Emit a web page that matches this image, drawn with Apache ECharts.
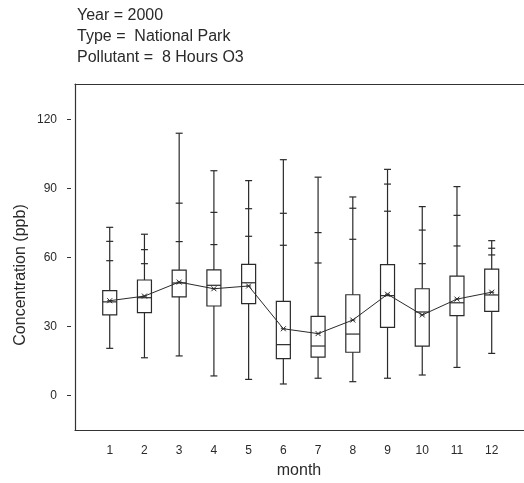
<!DOCTYPE html>
<html>
<head>
<meta charset="utf-8">
<script src="https://cdn.jsdelivr.net/npm/echarts@6/dist/echarts.min.js"></script>
<style>
  html, body { margin: 0; padding: 0; background: #fff; }
  #chart { width: 524px; height: 483px; }
</style>
</head>
<body>
<div id="chart"></div>
<script>
// Monthly 8-hour O3 concentration distribution (ppb), National Park sites, 2000
const months      = [1, 2, 3, 4, 5, 6, 7, 8, 9, 10, 11, 12];
const whiskerLow  = [20.6, 16.5, 17.3, 8.6, 7.1, 5.1, 7.6, 6.1, 7.6, 9.0, 12.3, 18.4];
const q1          = [35.1, 36.1, 43.0, 39.0, 40.0, 16.1, 16.8, 18.9, 29.7, 21.6, 34.8, 36.7];
const median      = [40.8, 42.6, 49.0, 48.0, 49.1, 22.2, 21.6, 26.8, 43.5, 36.4, 40.4, 43.8];
const q3          = [45.7, 50.3, 54.6, 54.7, 57.1, 41.0, 34.5, 43.9, 57.0, 46.5, 52.0, 55.0];
const whiskerHigh = [73.2, 70.2, 114.1, 97.8, 93.5, 102.6, 95.0, 86.4, 98.4, 82.2, 90.9, 67.4];
const upperTickA  = [67.1, 63.5, 83.7, 79.7, 81.3, 79.3, 70.9, 81.5, 92.0, 72.0, 78.4, 64.1];
const upperTickB  = [58.7, 57.4, 67.0, 65.7, 69.3, 65.4, 57.7, 68.0, 80.2, 57.4, 65.1, 61.2];
const meanValue   = [41.3, 43.3, 49.4, 46.5, 47.7, 29.1, 27.0, 32.9, 44.1, 35.1, 42.0, 45.0];
const yTicks      = [0, 30, 60, 90, 120];

const FONT = '"Liberation Sans", Arial, Helvetica, sans-serif';
const INK = '#2a2a2a';
const FRAME = { show: true, onZero: false, lineStyle: { color: '#333', width: 1.2 } };
const Y_MIN = -14.9, Y_MAX = 135.5;
// The frame runs on past the right edge of the canvas
const X_MAX = 12.93;

const boxData = months.map((m, i) => [m, whiskerLow[i], q1[i], median[i], q3[i], whiskerHigh[i], upperTickA[i], upperTickB[i]]);
const meanData = months.map((m, i) => [m, meanValue[i]]);

function renderBox(params, api) {
  const x = api.value(0);
  const pt = v => api.coord([x, v]);
  const cx = pt(0)[0];
  const yLow = pt(api.value(1))[1];
  const yQ1 = pt(api.value(2))[1];
  const yMed = pt(api.value(3))[1];
  const yQ3 = pt(api.value(4))[1];
  const yHigh = pt(api.value(5))[1];
  const yTa = pt(api.value(6))[1];
  const yTb = pt(api.value(7))[1];
  const halfBox = 7, halfCap = 3.5, halfTick = 3.5;
  const style = { stroke: INK, lineWidth: 1.2, fill: null };
  const line = (x1, y1, x2, y2) => ({ type: 'line', shape: { x1, y1, x2, y2 }, style });
  return {
    type: 'group',
    children: [
      line(cx, yLow, cx, yQ1),
      line(cx - halfCap, yLow, cx + halfCap, yLow),
      line(cx, yQ3, cx, yHigh),
      line(cx - halfCap, yHigh, cx + halfCap, yHigh),
      line(cx - halfTick, yTa, cx + halfTick, yTa),
      line(cx - halfTick, yTb, cx + halfTick, yTb),
      { type: 'rect', shape: { x: cx - halfBox, y: yQ3, width: halfBox * 2, height: yQ1 - yQ3 }, style },
      line(cx - halfBox, yMed, cx + halfBox, yMed)
    ]
  };
}

const chart = echarts.init(document.getElementById('chart'), null, { renderer: 'canvas' });
chart.setOption({
  animation: false,
  backgroundColor: '#fff',
  textStyle: { fontFamily: FONT },
  grid: { left: 75, top: 84, right: 0, height: 346, show: false },
  xAxis: [
    {
      type: 'value', min: 0, max: X_MAX, position: 'bottom',
      axisLine: FRAME,
      axisTick: { show: false },
      splitLine: { show: false },
      axisLabel: { customValues: months, margin: 15, fontSize: 12, color: INK, fontFamily: FONT }
    },
    {
      type: 'value', min: 0, max: X_MAX, position: 'top',
      axisLine: FRAME,
      axisTick: { show: false },
      splitLine: { show: false },
      axisLabel: { show: false }
    }
  ],
  yAxis: [
    {
      type: 'value', min: Y_MIN, max: Y_MAX, position: 'left',
      axisLine: FRAME,
      axisTick: { show: false },
      splitLine: { show: false },
      axisLabel: { show: false }
    },
    {
      type: 'value', min: Y_MIN, max: Y_MAX, position: 'left', offset: 4,
      axisLine: { show: false, onZero: false },
      splitLine: { show: false },
      axisTick: { show: true, length: 4, customValues: yTicks, lineStyle: { color: '#333', width: 1 } },
      axisLabel: { customValues: yTicks, margin: 14, fontSize: 12, color: INK, fontFamily: FONT }
    }
  ],
  graphic: [
    { type: 'text', left: 77, top: 8, style: { text: 'Year = 2000', font: '16px ' + FONT, fill: INK } },
    { type: 'text', left: 77, top: 29, style: { text: 'Type =  National Park', font: '16px ' + FONT, fill: INK } },
    { type: 'text', left: 77, top: 49.5, style: { text: 'Pollutant =  8 Hours O3', font: '16px ' + FONT, fill: INK } },
    { type: 'text', x: 299, y: 471, style: { text: 'month', font: '16px ' + FONT, fill: INK, align: 'center', verticalAlign: 'middle' } },
    { type: 'text', x: 21, y: 275, rotation: Math.PI / 2, style: { text: 'Concentration (ppb)', font: '16px ' + FONT, fill: INK, align: 'center', verticalAlign: 'middle' } }
  ],
  series: [
    {
      type: 'custom',
      renderItem: renderBox,
      data: boxData,
      encode: { x: 0, y: [1, 2, 3, 4, 5] },
      z: 2
    },
    {
      type: 'line',
      data: meanData,
      symbol: 'path://M0,0L10,10M10,0L0,10M0,5L10,5',
      symbolSize: 5,
      showSymbol: true,
      lineStyle: { color: INK, width: 1 },
      itemStyle: { color: 'none', borderColor: INK, borderWidth: 1 },
      z: 3
    }
  ]
});
</script>
</body>
</html>
